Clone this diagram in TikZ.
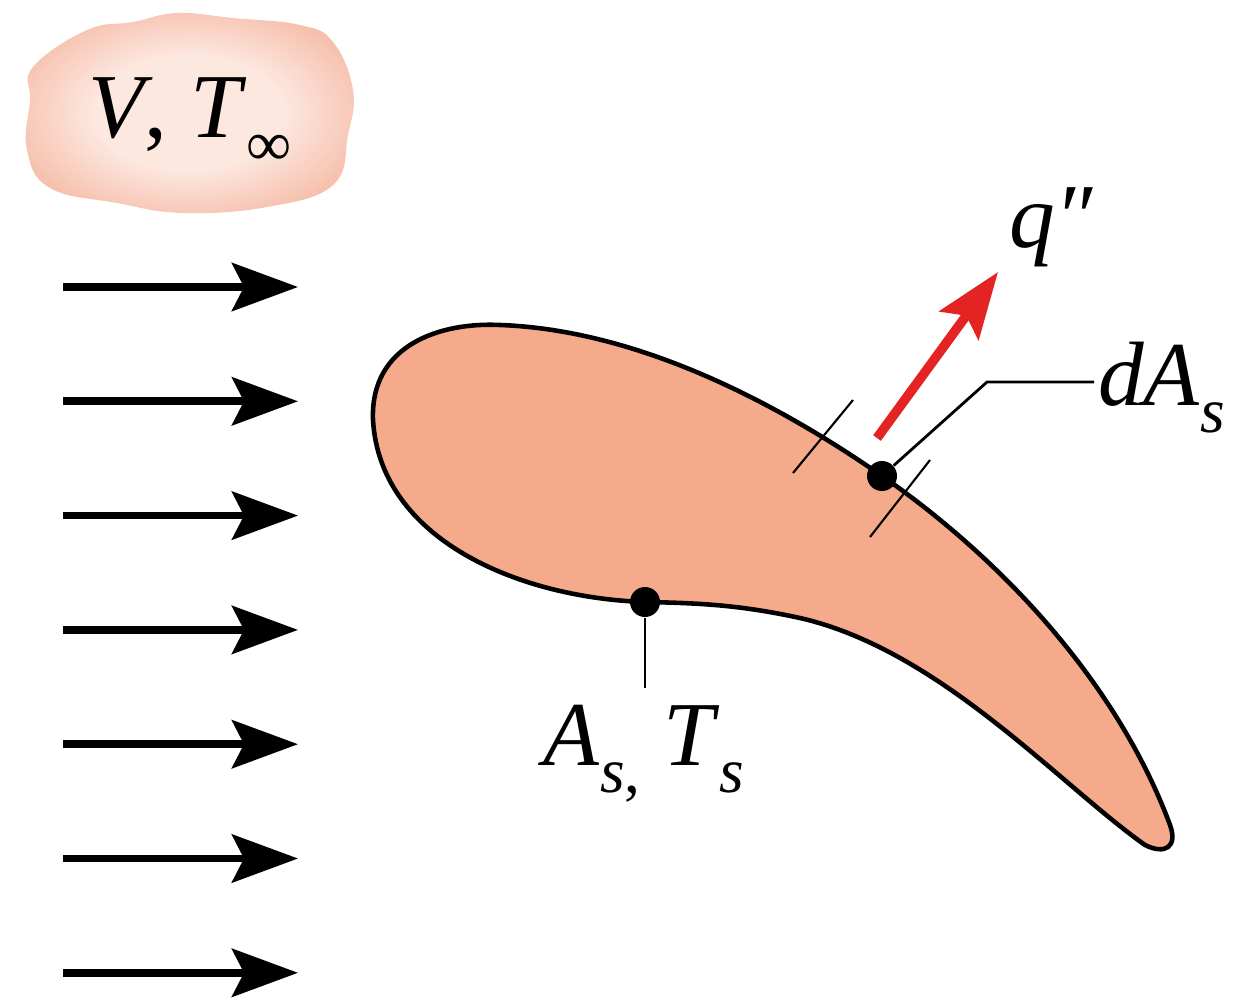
\documentclass[tikz,border=0pt]{standalone}
\usepackage{fontspec}
\setmainfont{Liberation Serif}
\usetikzlibrary{arrows.meta}

\definecolor{bodyfill}{RGB}{245,170,140}
\definecolor{heatred}{RGB}{228,35,35}
\definecolor{cloudin}{RGB}{253,232,224}
\definecolor{cloudout}{RGB}{243,176,152}
\pgfdeclareradialshading{cloudshade}{\pgfpoint{0bp}{0bp}}{color(0bp)=(cloudin); color(14bp)=(cloudin); color(33bp)=(cloudout); color(50bp)=(cloudout)}
\newcommand{\lowsub}[2][0.3em]{\raisebox{-#1}{\fontsize{18}{20}\selectfont #2}}

\begin{document}
\begin{tikzpicture}[x=0.1mm, y=-0.1mm,
    >={Stealth[length=6.6mm, width=4.8mm, inset=1.2mm]},
    labeltext/.style={font=\fontsize{26}{30}\selectfont, inner sep=1pt},
    dot/.style={circle, fill=black, minimum size=3mm, inner sep=0pt},
    leader/.style={line width=0.8pt},
    flowarrow/.style={->, line width=2.2pt}]
    \useasboundingbox (0,0) rectangle (1244,1004);

    \shade[shading=cloudshade] plot[smooth cycle, tension=0.7] coordinates {
        (33,67) (87,30) (133,22) (177,13) (233,18) (300,25) (333,42) (353,90)
        (348,135) (333,185) (267,207) (183,213) (117,203) (50,188) (27,150) (30,100)};
    \node[labeltext, anchor=base] (flow) at (190,138)
        {\textit{V}, \textit{T}\lowsub[0.3em]{∞}};

    \foreach \i in {0,...,6}
        \draw[flowarrow] (63,{287+114.3*\i}) -- (298,{287+114.3*\i});

    \draw[fill=bodyfill, line width=1.3pt]
        (373,420) .. controls (370,345) and (440,322) .. (500,325)
        .. controls (640,330) and (780,405) .. (882,476)
        .. controls (1010,565) and (1120,690) .. (1170,825)
        .. controls (1178,847) and (1165,855) .. (1145,845)
        .. controls (1060,785) and (940,650) .. (800,618)
        .. controls (740,605) and (700,603) .. (645,602)
        .. controls (520,598) and (380,540) .. cycle;

    \coordinate (tickA1) at (793,473);
    \coordinate (tickA2) at (853,400);
    \coordinate (tickB1) at (870,537);
    \coordinate (tickB2) at (930,460);
    \draw[line width=0.6pt] (tickA1) -- (tickA2);
    \draw[line width=0.6pt] (tickB1) -- (tickB2);

    \coordinate (qfoot) at (877,438);
    \coordinate (qhead) at (998,272);
    \draw[->, heatred, line width=2.7pt] (qfoot) -- (qhead);
    \node[labeltext, anchor=base west] (qlab) at (1005,248) {\textit{q″}};

    \node[dot] (dA) at (882,476) {};
    \node[labeltext, anchor=base west] (dAlab) at (1094,405)
        {\textit{dA}\lowsub{\textit{s}}};
    \coordinate (dAbend) at (987,382);
    \draw[leader] (dA) -- (dAbend) -- (dAlab.west |- dAbend);

    \node[dot] (As) at (645,602) {};
    \node[labeltext, anchor=base] (Aslab) at (644,765)
        {\textit{A}\lowsub{\textit{s},} \textit{T}\lowsub{\textit{s}}};
    \draw[leader] (As) -- ([yshift=1.2mm]Aslab.north -| As);
\end{tikzpicture}
\end{document}
